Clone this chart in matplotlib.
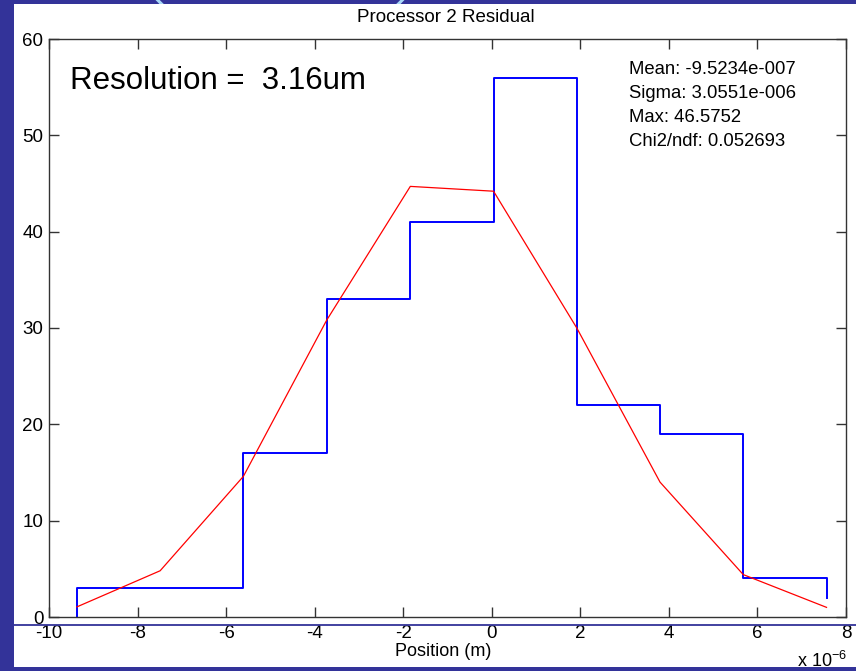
import numpy as np
import matplotlib
matplotlib.use("Agg")
import matplotlib.pyplot as plt
from matplotlib.patches import Rectangle, Circle
from matplotlib.lines import Line2D
from matplotlib.transforms import Affine2D

# Histogram of residual positions (bin centres in metres) and Gaussian fit
bin_centers = [-9.37e-6, -7.49e-6, -5.61e-6, -3.73e-6, -1.84e-6,
               0.04e-6, 1.92e-6, 3.80e-6, 5.68e-6, 7.56e-6]
counts = [3, 3, 17, 33, 41, 56, 22, 19, 4, 2]
fit_values = [1.05, 4.8, 14.6, 30.8, 44.7, 44.2, 30.0, 14.0, 4.4, 1.0]

x_ticks = [-10, -8, -6, -4, -2, 0, 2, 4, 6, 8]
y_ticks = [0, 10, 20, 30, 40, 50, 60]
stats_lines = ["Mean: -9.5234e-007", "Sigma: 3.0551e-006",
               "Max: 46.5752", "Chi2/ndf: 0.052693"]

W, H = 856, 671
plt.rcParams['font.family'] = ['Liberation Sans', 'DejaVu Sans']

fig = plt.figure(figsize=(W / 100, H / 100), dpi=100, facecolor='#333399')
# pixel coordinates measured from the top-left corner
px = Affine2D().scale(1 / W, -1 / H).translate(0, 1) + fig.transFigure

# decorative ring peeking above the white panel
fig.add_artist(Circle((280, -118), 170, transform=px, fill=False,
                      edgecolor='#a8d8f8', linewidth=2.2, zorder=0))
fig.add_artist(Rectangle((14, 4), W - 14, 663, transform=px,
                         facecolor='white', edgecolor='none', zorder=1))
fig.add_artist(Line2D([14, W], [624.5, 624.5], transform=px,
                      color='#333399', linewidth=1.3, zorder=3))

ax = fig.add_axes([49 / W, 1 - 617 / H, (846 - 49) / W, (617 - 39) / H])
ax.set_zorder(2)
ax.set_facecolor('white')

scale = 1e-6
xc = np.array(bin_centers) / scale
ax.step(np.r_[xc[0], xc], np.r_[0, counts], where='post',
        color='#0000ff', linewidth=1.4)
ax.plot(xc, fit_values, color='#ff0000', linewidth=0.9)

ax.set_xlim(-10, 8)
ax.set_ylim(0, 60)
ax.set_xticks(x_ticks)
ax.set_yticks(y_ticks)
ax.set_xticklabels([str(t) for t in x_ticks])
ax.set_yticklabels([str(t) for t in y_ticks])
ax.tick_params(direction='in', length=7, width=1, color='#333333',
               top=True, right=True, labelsize=13.5, labelcolor='black')
ax.tick_params(axis='x', pad=6)
ax.tick_params(axis='y', pad=4)
for s in ax.spines.values():
    s.set_color('#333333')
    s.set_linewidth(1)

fig.text(446 / W, 1 - 17 / H, "Processor 2 Residual", ha='center',
         va='center', fontsize=13.5, zorder=4)
fig.text(443 / W, 1 - 652 / H, "Position (m)", ha='center', va='center',
         fontsize=13, zorder=4)
fig.text(797 / W, 1 - 661 / H, r"x 10$^{\mathregular{-6}}$", ha='left',
         va='center', fontsize=13, zorder=4)

fig.text(70 / W, 1 - 81 / H, "Resolution =  3.16um", ha='left',
         va='center', fontsize=22.5, zorder=4)
for i, line in enumerate(stats_lines):
    fig.text(629 / W, 1 - (70 + 24 * i) / H, line, ha='left', va='center',
             fontsize=13.3, zorder=4)

fig.savefig("out.png", dpi=100, facecolor=fig.get_facecolor())
